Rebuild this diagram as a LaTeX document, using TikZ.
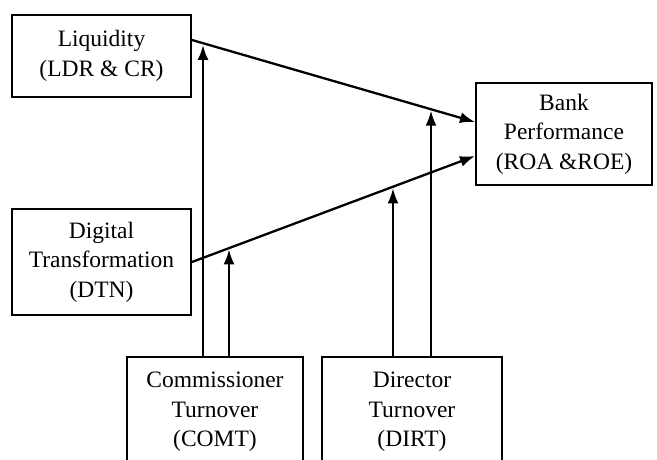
\documentclass[tikz,border=0pt]{standalone}
\usepackage{fontspec}
\setmainfont{Liberation Serif}
\usetikzlibrary{arrows.meta,calc}
\tikzset{
  box/.style={draw, line width=2pt, align=center, inner sep=0pt,
    font=\fontsize{23.5}{29.5}\selectfont},
  arr/.style={line width=2.3pt, -{Latex[length=15pt,width=11pt]}},
}
\begin{document}
\begin{tikzpicture}[x=1pt,y=1pt]
\useasboundingbox (0,0) rectangle (657,459);
\clip (0,0) rectangle (657,459);
% boxes (x = image px, y = 459 - image px)
\node[box, minimum width=179pt, minimum height=82pt] (liq) at (101.5,403) {Liquidity\\(LDR \& CR)};
\node[box, minimum width=176pt, minimum height=102pt] (bank) at (564,325) {Bank\\Performance\\(ROA \&ROE)};
\node[box, minimum width=179pt, minimum height=106pt] (dig) at (101.5,197) {Digital\\Transformation\\(DTN)};
\node[box, minimum width=176pt, minimum height=110pt] (comt) at (215,47) {Commissioner\\Turnover\\(COMT)};
\node[box, minimum width=180pt, minimum height=110pt] (dirt) at (412,47) {Director\\Turnover\\(DIRT)};
% main paths
\coordinate (l1s) at ($(liq.north east)+(0,-26)$);
\coordinate (l1e) at ($(bank.west)+(0,12)$);
\coordinate (l2s) at (dig.east);
\coordinate (l2e) at ($(bank.west)+(0,-22)$);
\draw[arr] (l1s) -- (l1e);
\draw[arr] (l2s) -- (l2e);
% moderating arrows
\coordinate (c1) at ($(comt.north)+(-12,0)$);
\coordinate (c2) at ($(comt.north)+(14,0)$);
\coordinate (d1) at ($(dirt.north)+(-19,0)$);
\coordinate (d2) at ($(dirt.north)+(19,0)$);
\coordinate (m1) at ($(l1s)!0.042!(l1e)$);
\coordinate (m2) at ($(l2s)!0.133!(l2e)$);
\coordinate (m3) at ($(l2s)!0.709!(l2e)$);
\coordinate (m4) at ($(l1s)!0.842!(l1e)$);
\draw[arr, shorten >=1.5pt] (c1) -- (c1 |- m1);
\draw[arr, shorten >=1.5pt] (c2) -- (c2 |- m2);
\draw[arr, shorten >=1.5pt] (d1) -- (d1 |- m3);
\draw[arr, shorten >=1.5pt] (d2) -- (d2 |- m4);
\end{tikzpicture}
\end{document}
